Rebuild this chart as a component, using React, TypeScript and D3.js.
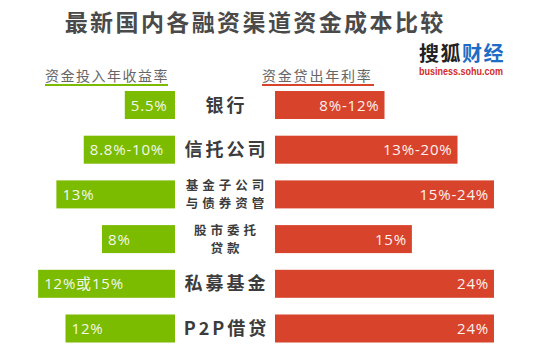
import React from "react";
import * as d3 from "d3";

const title = "最新国内各融资渠道资金成本比较";
const leftHeader = "资金投入年收益率";
const rightHeader = "资金贷出年利率";
const categories: string[][] = [
  ["银行"],
  ["信托公司"],
  ["基金子公司", "与债券资管"],
  ["股市委托", "贷款"],
  ["私募基金"],
  ["P2P借贷"],
];
const investValues = [5.5, 10, 13, 8, 15, 12];
const investLabels = ["5.5%", "8.8%-10%", "13%", "8%", "12%或15%", "12%"];
const loanValues = [12, 20, 24, 15, 24, 24];
const loanLabels = ["8%-12%", "13%-20%", "15%-24%", "15%", "24%", "24%"];

const GREEN = "#7bbb00";
const RED = "#d8432c";
const CJK = "'Noto Sans CJK SC', 'Noto Sans', sans-serif";
const NUM = "'Open Sans', 'Noto Sans CJK SC', sans-serif";

export default function App() {
  const W = 546, H = 356;
  const centerL = 175, centerR = 275;
  const x = d3.scaleLinear().domain([0, 24]).range([0, 219]);
  const y = d3.scalePoint<number>().domain(d3.range(categories.length)).range([105, 328.5]);
  const bh = 28;
  const midX = (centerL + centerR) / 2;

  return (
    <svg width={W} height={H} style={{ position: "absolute", left: 0, top: 0, background: "#fff" }}>
      <rect width={W} height={H} fill="#fff" />
      <text x={254 + 1.2} y={31} textAnchor="middle" fontFamily={CJK} fontWeight={700} fontSize={23} letterSpacing={2.4} fill="#4a4a4a">{title}</text>

      {/* logo */}
      <text x={419} y={61} fontFamily={CJK} fontWeight={700} fontSize={20} letterSpacing={1.5}>
        <tspan fill="#222">搜狐</tspan><tspan fill="#1f6cc6">财经</tspan>
      </text>
      <text x={419} y={75} fontFamily="'Liberation Sans', Arial, sans-serif" fontWeight={700} fontSize={11} fill="#d22a2a" textLength={84} lengthAdjust="spacingAndGlyphs">business.sohu.com</text>

      {/* headers */}
      <text x={45} y={81} fontFamily={CJK} fontSize={14} letterSpacing={1.5} fill="#666">{leftHeader}</text>
      <line x1={45} x2={168} y1={85} y2={85} stroke={GREEN} strokeWidth={2} />
      <text x={262} y={81} fontFamily={CJK} fontSize={14} letterSpacing={1.8} fill="#666">{rightHeader}</text>
      <line x1={262} x2={374} y1={85} y2={85} stroke={RED} strokeWidth={2} />

      {categories.map((cat, i) => {
        const cy = y(i)!;
        return (
          <g key={i}>
            <rect x={centerL - x(investValues[i])} y={cy - bh / 2} width={x(investValues[i])} height={bh} fill={GREEN} />
            <text x={centerL - x(investValues[i]) + 6} y={cy + 5.5} fontFamily={NUM} fontSize={15} letterSpacing={0.8} fill="#f4f8ea">{investLabels[i]}</text>
            <rect x={centerR} y={cy - bh / 2} width={x(loanValues[i])} height={bh} fill={RED} />
            <text x={centerR + x(loanValues[i]) - 5} y={cy + 5.5} textAnchor="end" fontFamily={NUM} fontSize={15} letterSpacing={0.8} fill="#fdf1ee">{loanLabels[i]}</text>
            {cat.length === 1 ? (
              <text x={midX + 1.5} y={cy + 6.5} textAnchor="middle" fontFamily={CJK} fontWeight={700} fontSize={18} letterSpacing={3} fill="#3c3c3c">{cat[0]}</text>
            ) : (
              <text textAnchor="middle" fontFamily={CJK} fontWeight={700} fontSize={12.5} letterSpacing={4} fill="#3c3c3c">
                {cat.map((line, j) => (
                  <tspan key={j} x={midX + 2} y={cy - 4.5 + j * 18.5}>{line}</tspan>
                ))}
              </text>
            )}
          </g>
        );
      })}
    </svg>
  );
}
